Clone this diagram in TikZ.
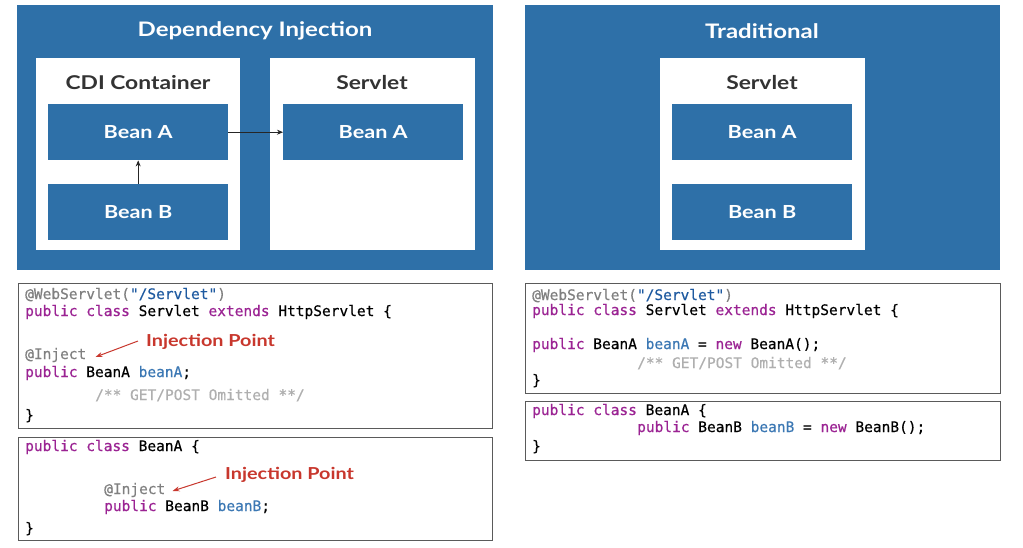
\documentclass[tikz,border=0pt]{standalone}
\usepackage{fontspec}
\setmainfont{Lato}
\newfontfamily\headfont[FakeStretch=1.2]{Lato}
\setmonofont[FakeBold=0.5]{DejaVu Sans Mono}
\usetikzlibrary{arrows.meta}
\definecolor{diblue}{RGB}{46,112,168}
\definecolor{kwcol}{RGB}{155,35,147}
\definecolor{idcol}{RGB}{60,120,180}
\definecolor{strcol}{RGB}{30,90,160}
\definecolor{anncol}{RGB}{128,128,128}
\definecolor{cmtcol}{RGB}{175,175,175}
\definecolor{ptred}{RGB}{200,55,45}
\definecolor{framegray}{RGB}{90,90,90}
\newcommand{\kw}[1]{\textcolor{kwcol}{#1}}
\newcommand{\id}[1]{\textcolor{idcol}{#1}}
\newcommand{\str}[1]{\textcolor{strcol}{#1}}
\newcommand{\ann}[1]{\textcolor{anncol}{#1}}
\newcommand{\cmt}[1]{\textcolor{cmtcol}{#1}}
\tikzset{
  blk/.style={rectangle, inner sep=0pt, anchor=north west},
  bluepanel/.style={blk, fill=diblue},
  whitepanel/.style={blk, fill=white},
  bean/.style={blk, fill=diblue, minimum width=180pt, minimum height=56pt,
    font=\headfont\fontsize{18}{20}\selectfont\bfseries, text=white},
  codebox/.style={blk, draw=framegray, line width=1.3pt, fill=white},
  title/.style={inner sep=0pt, font=\headfont\fontsize{20}{24}\selectfont\bfseries, text=white},
  subtitle/.style={inner sep=0pt, font=\headfont\fontsize{19}{24}\selectfont\bfseries, text=black!80},
  code/.style={inner sep=0pt, anchor=base west, font=\ttfamily\fontsize{14.5}{17}\selectfont},
  inj/.style={inner sep=0pt, anchor=base west, font=\headfont\fontsize{16.5}{20}\selectfont\bfseries, text=ptred},
  flow/.style={-{Stealth[length=6pt,width=5pt]}, line width=0.8pt, black!85},
  injarrow/.style={-{Stealth[length=7pt,width=5pt]}, line width=1pt, ptred},
}
\begin{document}
\begin{tikzpicture}[x=1pt, y=-1pt]
\useasboundingbox[fill=white] (0,0) rectangle (1023,547);

% ---- Dependency Injection panel ----
\node[bluepanel, minimum width=476pt, minimum height=265pt] (di) at (17,5) {};
\node[title] (dititle) at (255,31) {Dependency Injection};
\node[whitepanel, minimum width=204pt, minimum height=192pt] (cdi) at (36,58) {};
\node[subtitle] (cdititle) at (138,83) {CDI Container};
\node[whitepanel, minimum width=205pt, minimum height=192pt] (srv) at (270,58) {};
\node[subtitle] (srvtitle) at (372,83) {Servlet};
\node[bean] (cdiA) at (48,104) {Bean A};
\node[bean] (cdiB) at (48,184) {Bean B};
\node[bean] (srvA) at (283,104) {Bean A};
\draw[flow] (cdiB.north) -- (cdiA.south);
\draw[flow] (cdiA.east) -- (srvA.west);

% ---- Traditional panel ----
\node[bluepanel, minimum width=475pt, minimum height=265pt] (tr) at (525,5) {};
\node[title] (trtitle) at (762,31) {Traditional};
\node[whitepanel, minimum width=205pt, minimum height=192pt] (tsrv) at (660,58) {};
\node[subtitle] (tsrvtitle) at (762,83) {Servlet};
\node[bean] (tA) at (672,104) {Bean A};
\node[bean] (tB) at (672,184) {Bean B};

% ---- Injected servlet code ----
\node[codebox, minimum width=474pt, minimum height=145pt] (c1) at (18,283) {};
\node[code] (c1a) at (25,299) {\ann{@WebServlet(}\str{"/Servlet"}\ann{)}};
\node[code] (c1b) at (25,316) {\kw{public class} Servlet \kw{extends} HttpServlet \{};
\node[code] (c1c) at (25,359) {\ann{@Inject}};
\node[code] (c1d) at (25,377) {\kw{public} BeanA \id{beanA};};
\node[code] (c1e) at (95,400) {\cmt{/** GET/POST Omitted **/}};
\node[code] (c1f) at (25,420) {\}};
\node[inj] (p1) at (146,346) {Injection Point};
\draw[injarrow] ([shift={(-8,-5)}]p1.base west) -- ([shift={(9,-2)}]c1c.base east);

% ---- Injected bean code ----
\node[codebox, minimum width=474pt, minimum height=103pt] (c2) at (18,437) {};
\node[code] (c2a) at (25,451) {\kw{public class} BeanA \{};
\node[code] (c2b) at (104,494) {\ann{@Inject}};
\node[code] (c2c) at (104,511) {\kw{public} BeanB \id{beanB};};
\node[code] (c2d) at (25,533) {\}};
\node[inj] (p2) at (225,479) {Injection Point};
\draw[injarrow] ([shift={(-9,-2)}]p2.base west) -- ([shift={(7,-3)}]c2b.base east);

% ---- Traditional servlet code ----
\node[codebox, minimum width=475pt, minimum height=110pt] (c3) at (525,283) {};
\node[code] (c3a) at (532,300) {\ann{@WebServlet(}\str{"/Servlet"}\ann{)}};
\node[code] (c3b) at (532,315) {\kw{public class} Servlet \kw{extends} HttpServlet \{};
\node[code] (c3c) at (532,349) {\kw{public} BeanA \id{beanA} = \kw{new} BeanA();};
\node[code] (c3d) at (637,368) {\cmt{/** GET/POST Omitted **/}};
\node[code] (c3e) at (532,385) {\}};

% ---- Traditional bean code ----
\node[codebox, minimum width=475pt, minimum height=59pt] (c4) at (525,401) {};
\node[code] (c4a) at (532,415) {\kw{public class} BeanA \{};
\node[code] (c4b) at (637,432) {\kw{public} BeanB \id{beanB} = \kw{new} BeanB();};
\node[code] (c4c) at (532,451) {\}};
\end{tikzpicture}
\end{document}
